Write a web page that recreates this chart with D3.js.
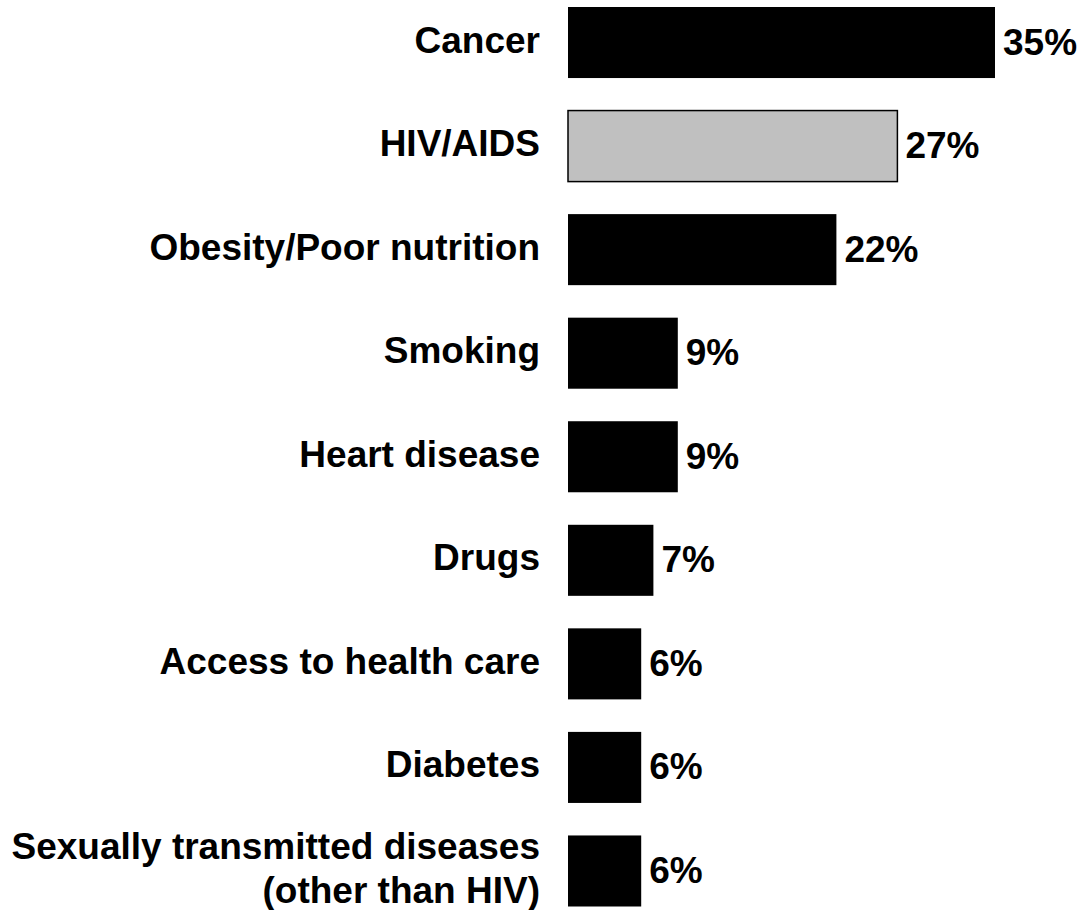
<!DOCTYPE html>
<html>
<head>
<meta charset="utf-8">
<script src="https://cdn.jsdelivr.net/npm/d3@7"></script>
<style>
  html, body { margin: 0; padding: 0; background: #fff; }
  svg { display: block; }
  text { font-family: "Liberation Sans", Arial, sans-serif; font-weight: bold; fill: #000; }
</style>
</head>
<body>
<svg id="chart" width="1083" height="910"></svg>
<script>
// Health problems named, share of respondents (%)
const categories = [
  "Cancer",
  "HIV/AIDS",
  "Obesity/Poor nutrition",
  "Smoking",
  "Heart disease",
  "Drugs",
  "Access to health care",
  "Diabetes",
  "Sexually transmitted diseases\n(other than HIV)"
];
const values = [35, 27, 22, 9, 9, 7, 6, 6, 6];
const highlighted = ["HIV/AIDS"];

const svg = d3.select("#chart");
const barLeft = 568;
const labelRight = 540;
const fontSize = 37;

const x = d3.scaleLinear().domain([0, 35]).range([barLeft, 995]);
const y = d3.scaleBand()
  .domain(categories)
  .range([7, 906.5])
  .paddingInner(0.314)
  .paddingOuter(0);

const rows = categories.map((c, i) => ({ cat: c, val: values[i] }));

const g = svg.append("g");

// bars
g.selectAll("rect.bar")
  .data(rows)
  .join("rect")
  .attr("class", "bar")
  .attr("x", x(0))
  .attr("y", d => y(d.cat))
  .attr("width", d => x(d.val) - x(0))
  .attr("height", y.bandwidth())
  .attr("fill", d => highlighted.includes(d.cat) ? "#c0c0c0" : "#000")
  .attr("stroke", "#000")
  .attr("stroke-width", d => highlighted.includes(d.cat) ? 1.5 : 0);

// category labels (right aligned, left of bars)
const labels = g.selectAll("text.cat")
  .data(rows)
  .join("text")
  .attr("class", "cat")
  .attr("text-anchor", "end")
  .attr("font-size", fontSize)
  .attr("x", labelRight)
  .attr("y", d => y(d.cat) + y.bandwidth() / 2);

labels.each(function(d) {
  const lines = d.cat.split("\n");
  const t = d3.select(this);
  const lh = 44;
  const start = -(lines.length - 1) * lh / 2;
  lines.forEach((ln, i) => {
    t.append("tspan")
      .attr("x", labelRight)
      .attr("dy", i === 0 ? (start + 10) : lh)
      .text(ln);
  });
});

// value labels
g.selectAll("text.val")
  .data(rows)
  .join("text")
  .attr("class", "val")
  .attr("font-size", fontSize)
  .attr("x", d => x(d.val) + 8)
  .attr("y", d => y(d.cat) + y.bandwidth() / 2 + 12)
  .text(d => d.val + "%");
</script>
</body>
</html>
